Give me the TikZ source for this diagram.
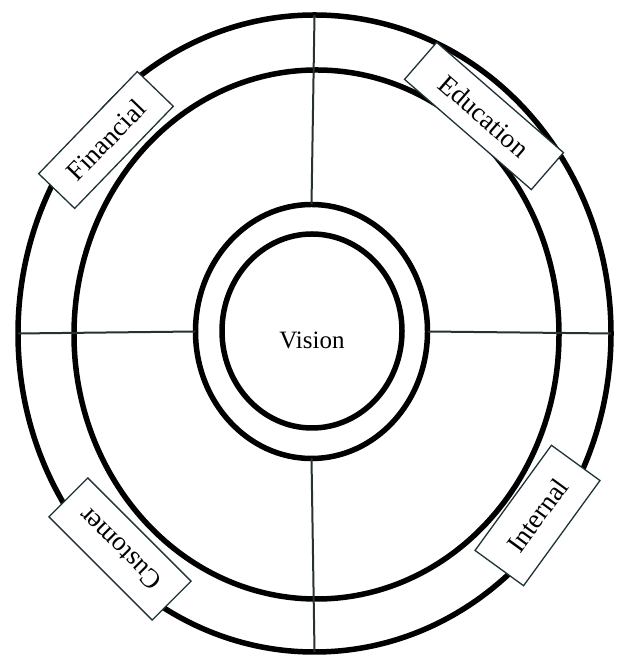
\documentclass[tikz,border=0pt]{standalone}
\usepackage{fontspec}
\setmainfont{Liberation Serif}
\usepackage{tikz}
\usetikzlibrary{shapes.geometric}
\definecolor{tagedge}{RGB}{30,50,55}
\definecolor{crossgray}{RGB}{40,48,50}

\begin{document}
\begin{tikzpicture}[x=1pt,y=1pt,
  ringline/.style={ellipse,draw=black,line width=5.5pt,inner sep=0pt,outer sep=0pt},
  crossline/.style={draw=crossgray,line width=2pt},
  tagbox/.style={draw=tagedge,fill=white,line width=1.3pt,inner sep=0pt,
    font=\fontsize{27}{30}\selectfont}]
  \useasboundingbox (0,0) rectangle (618,660);
  % rings
  \node[ringline,minimum width=593,minimum height=637] (outer) at (314.5,326.5) {};
  \node[ringline,minimum width=485,minimum height=529] (middle) at (316.5,325.5) {};
  \node[ringline,minimum width=232,minimum height=254] (ring) at (311.5,328.5) {};
  \node[ringline,minimum width=180,minimum height=194] (vision) at (312,329) {};
  \node (visiontxt) at (312,320) {\fontsize{25}{30}\selectfont Vision};
  % cross
  \draw[crossline] (ring.north) -- (outer.north);
  \draw[crossline] (ring.south) -- (outer.south);
  \draw[crossline] (ring.west) -- (outer.west);
  \draw[crossline] (ring.east) -- (outer.east);
  % perspective tags
  \node[tagbox,rotate=46,minimum width=142,minimum height=50] (fin) at (106,520) {Financial};
  \node[tagbox,rotate=-41,minimum width=168,minimum height=49] (edu) at (484,544) {Education};
  \node[tagbox,rotate=135,minimum width=146,minimum height=55] (cust) at (120,111) {Customer};
  \node[tagbox,rotate=54,minimum width=130,minimum height=60] (intl) at (537.5,144.5) {Internal};
\end{tikzpicture}
\end{document}
